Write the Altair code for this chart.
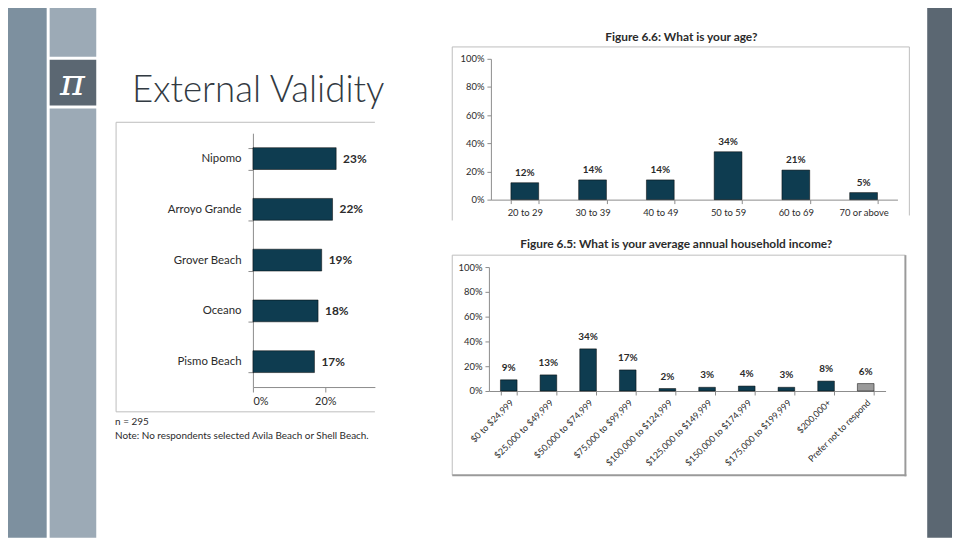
import altair as alt
import pandas as pd

# ---------------- data ----------------
cities = ["Nipomo", "Arroyo Grande", "Grover Beach", "Oceano", "Pismo Beach"]
city_pct = [23, 22, 19, 18, 17]
city_ticks = [0, 20]

age_groups = ["20 to 29", "30 to 39", "40 to 49", "50 to 59", "60 to 69", "70 or above"]
age_pct = [12, 14, 14, 34, 21, 5]

income_groups = ["$0 to $24,999", "$25,000 to $49,999", "$50,000 to $74,999",
                 "$75,000 to $99,999", "$100,000 to $124,999", "$125,000 to $149,999",
                 "$150,000 to $174,999", "$175,000 to $199,999", "$200,000+",
                 "Prefer not to respond"]
income_pct = [9, 13, 34, 17, 2, 3, 4, 3, 8, 6]

pct_ticks = [0, 20, 40, 60, 80, 100]

# ---------------- style ----------------
W, H = 952, 532
BAR = "#0e3c50"
FONT = "Lato"
TXT = "#2b2b2b"
AXC = "#8c8c8c"


def px(v):
    return v - 8  # screen px -> chart px (page margin 8)


ONE = alt.Data(values=[{}])


def rect(x1, x2, y1, y2, color):
    return alt.Chart(ONE).mark_rect(color=color).encode(
        x=alt.value(px(x1)), x2=alt.value(px(x2)), y=alt.value(px(y1)), y2=alt.value(px(y2)))


def hline(x1, x2, y, color="#bdbdbd", w=1):
    return alt.Chart(ONE).mark_rule(color=color, strokeWidth=w).encode(
        x=alt.value(px(x1)), x2=alt.value(px(x2)), y=alt.value(px(y)))


def vline(x, y1, y2, color="#bdbdbd", w=1):
    return alt.Chart(ONE).mark_rule(color=color, strokeWidth=w).encode(
        x=alt.value(px(x)), y=alt.value(px(y1)), y2=alt.value(px(y2)))


def label(txt, x, y, size=10, weight="normal", align="left", color=TXT, font=FONT,
          baseline="middle", style="normal"):
    return alt.Chart(ONE).mark_text(text=txt, fontSize=size, fontWeight=weight, align=align,
                                    baseline=baseline, color=color, font=font,
                                    fontStyle=style).encode(
        x=alt.value(px(x)), y=alt.value(px(y)))


decor = [
    rect(0, 47, 0, 540, "#7d909f"),
    rect(50, 97, 0, 55, "#9caab6"),
    rect(50, 97, 58, 104, "#5b6772"),
    rect(50, 97, 107, 540, "#9caab6"),
    rect(935, 960, 0, 540, "#5b6772"),
    # boxes
    hline(117, 378, 121), vline(117, 121, 413), hline(117, 378, 413),
    hline(456, 917, 45), vline(456, 45, 220), vline(917, 45, 215),
    hline(456, 913, 255), vline(456, 255, 477), vline(913, 255, 478, "#9a9a9a", 2),
    hline(456, 914, 477, "#9a9a9a", 2),
]

texts = [
    label("π", 73, 93, size=38, color="white", align="center", font="DejaVu Serif",
          baseline="alphabetic", style="italic"),
    label("External Validity", 133, 101, size=37, weight=300, color="#323a42",
          baseline="alphabetic"),
    label("n = 295", 116, 423, size=10),
    label("Note: No respondents selected Avila Beach or Shell Beach.", 116, 437, size=10),
    label("Figure 6.6: What is your age?", 687, 35, size=12, weight="bold", align="center"),
    label("Figure 6.5: What is your average annual household income?", 682, 244, size=12,
          weight="bold", align="center"),
]

# ---------------- city chart ----------------
city_df = pd.DataFrame({"city": cities, "pct": city_pct})
cx = alt.X("pct:Q", scale=alt.Scale(domain=[0, 33.7], range=[px(255), px(378)], nice=False),
           axis=alt.Axis(orient="bottom", offset=px(388) - H, values=city_ticks,
                         labelExpr="datum.value + '%'", title=None, grid=False,
                         labelFontSize=11, tickSize=5, labelPadding=4))
cy = alt.Y("city:N", sort=cities,
           scale=alt.Scale(range=[px(132), px(388)], paddingInner=0.57, paddingOuter=0.285),
           axis=alt.Axis(orient="left", offset=-px(255), tickBand="extent", title=None,
                         labelFontSize=11.5, tickSize=5, labelPadding=7, grid=False))
city_base = alt.Chart(city_df).transform_calculate(lab="datum.pct + '%'")
city_layer = alt.layer(
    city_base.mark_bar(color=BAR, stroke="#000", strokeWidth=0.5).encode(x=cx, y=cy),
    city_base.mark_text(align="left", dx=7, fontWeight="bold", fontSize=12, font=FONT,
                        color=TXT).encode(x=cx, y=cy, text="lab:N"),
)

# ---------------- age chart ----------------
age_df = pd.DataFrame({"age": age_groups, "pct": age_pct})
ax_ = alt.X("age:N", sort=age_groups,
            scale=alt.Scale(range=[px(495), px(905)], paddingInner=0.59, paddingOuter=0.295),
            axis=alt.Axis(orient="bottom", offset=px(199) - H, tickBand="extent", title=None,
                          labelAngle=0, labelFontSize=9.5, tickSize=4, labelPadding=4, grid=False))
ay_ = alt.Y("pct:Q", scale=alt.Scale(domain=[0, 100], range=[px(199), px(57)], nice=False),
            axis=alt.Axis(orient="left", offset=-px(495), values=pct_ticks,
                          labelExpr="datum.value + '%'", title=None, grid=False,
                          labelFontSize=9.5, tickSize=4, labelPadding=3))
age_base = alt.Chart(age_df).transform_calculate(lab="datum.pct + '%'")
age_layer = alt.layer(
    age_base.mark_bar(color=BAR, stroke="#000", strokeWidth=0.5).encode(x=ax_, y=ay_),
    age_base.mark_text(dy=-10, fontWeight="bold", fontSize=10, font=FONT,
                       color=TXT).encode(x=ax_, y=ay_, text="lab:N"),
)

# ---------------- income chart ----------------
inc_df = pd.DataFrame({"inc": income_groups, "pct": income_pct})
ix = alt.X("inc:N", sort=income_groups,
           scale=alt.Scale(range=[px(493), px(893)], paddingInner=0.58, paddingOuter=0.29),
           axis=alt.Axis(orient="bottom", offset=px(392) - H, tickBand="extent", title=None,
                         labelAngle=-45, labelFontSize=9, tickSize=4, labelPadding=3,
                         labelOverlap=False, labelLimit=200, grid=False))
iy = alt.Y("pct:Q", scale=alt.Scale(domain=[0, 100], range=[px(392), px(267)], nice=False),
           axis=alt.Axis(orient="left", offset=-px(493), values=pct_ticks,
                         labelExpr="datum.value + '%'", title=None, grid=False,
                         labelFontSize=9.5, tickSize=4, labelPadding=3))
inc_base = alt.Chart(inc_df).transform_calculate(lab="datum.pct + '%'")
inc_layer = alt.layer(
    inc_base.mark_bar(stroke="#000", strokeWidth=0.5).encode(
        x=ix, y=iy,
        color=alt.condition(alt.datum.inc == "Prefer not to respond",
                            alt.value("#9a9a9a"), alt.value(BAR))),
    inc_base.mark_text(dy=-12, fontWeight="bold", fontSize=10, font=FONT,
                       color=TXT).encode(x=ix, y=iy, text="lab:N"),
)

chart = alt.layer(*decor, city_layer, age_layer, inc_layer, *texts).resolve_scale(
    x="independent", y="independent"
).resolve_axis(
    x="independent", y="independent"
).properties(
    width=W, height=H, padding=0, autosize="none", background="white"
).configure_view(stroke=None).configure_axis(
    domainColor=AXC, tickColor=AXC, labelColor=TXT, labelFont=FONT
)

chart.save("out.html", embed_options={"renderer": "svg", "actions": False})
